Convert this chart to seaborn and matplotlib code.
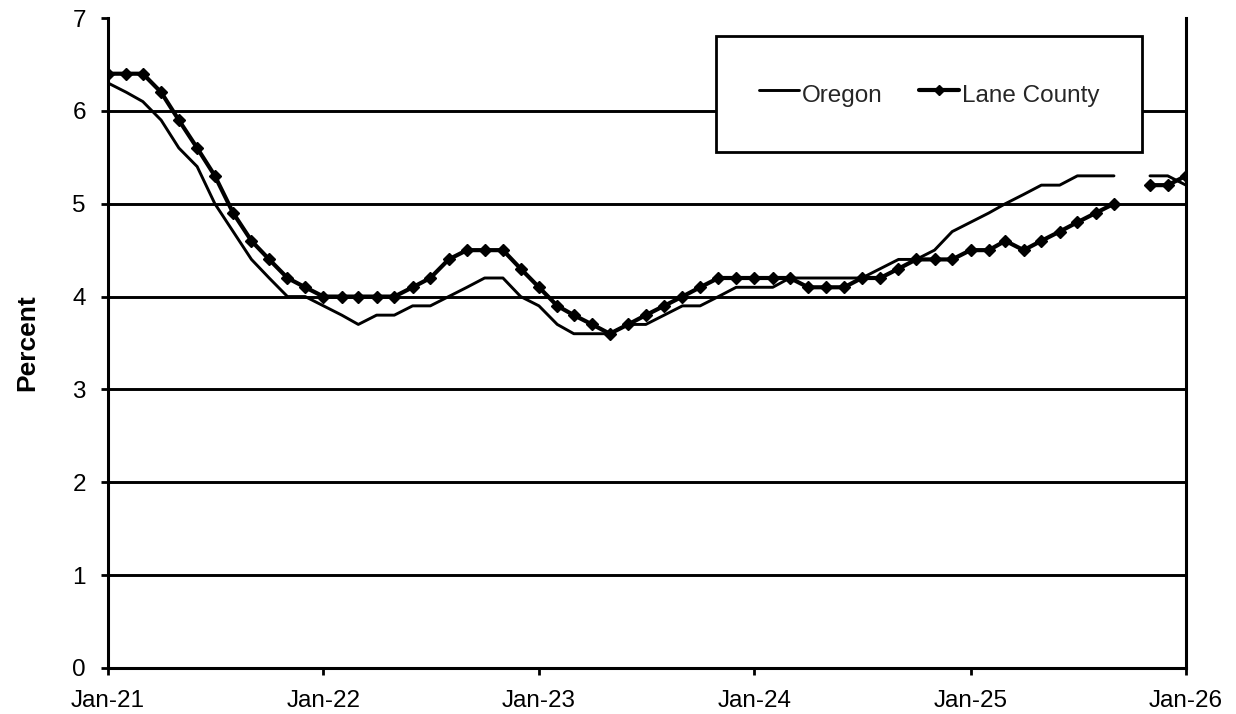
import numpy as np
import pandas as pd
import matplotlib
matplotlib.use("Agg")
import matplotlib.pyplot as plt
import matplotlib.dates as mdates
from matplotlib.lines import Line2D
import seaborn as sns

# ---- data (monthly, Jan-2021 .. Jan-2026; Oct-2025 missing) ----
months = pd.date_range("2021-01-01", "2026-01-01", freq="MS")

oregon = [6.3, 6.2, 6.1, 5.9, 5.6, 5.4, 5.0, 4.7, 4.4, 4.2, 4.0, 4.0,
          3.9, 3.8, 3.7, 3.8, 3.8, 3.9, 3.9, 4.0, 4.1, 4.2, 4.2, 4.0,
          3.9, 3.7, 3.6, 3.6, 3.6, 3.7, 3.7, 3.8, 3.9, 3.9, 4.0, 4.1,
          4.1, 4.1, 4.2, 4.2, 4.2, 4.2, 4.2, 4.3, 4.4, 4.4, 4.5, 4.7,
          4.8, 4.9, 5.0, 5.1, 5.2, 5.2, 5.3, 5.3, 5.3, np.nan, 5.3, 5.3,
          5.2]

lane = [6.4, 6.4, 6.4, 6.2, 5.9, 5.6, 5.3, 4.9, 4.6, 4.4, 4.2, 4.1,
        4.0, 4.0, 4.0, 4.0, 4.0, 4.1, 4.2, 4.4, 4.5, 4.5, 4.5, 4.3,
        4.1, 3.9, 3.8, 3.7, 3.6, 3.7, 3.8, 3.9, 4.0, 4.1, 4.2, 4.2,
        4.2, 4.2, 4.2, 4.1, 4.1, 4.1, 4.2, 4.2, 4.3, 4.4, 4.4, 4.4,
        4.5, 4.5, 4.6, 4.5, 4.6, 4.7, 4.8, 4.9, 5.0, np.nan, 5.2, 5.2,
        5.3]

series_names = ["Oregon", "Lane County"]
y_ticks = [0, 1, 2, 3, 4, 5, 6, 7]
tick_years = [2021, 2022, 2023, 2024, 2025, 2026]
y_label = "Percent"


def long_frame(values, name):
    d = pd.DataFrame({"date": months, "value": values})
    d["series"] = name
    d["segment"] = d["value"].isna().cumsum()
    return d.dropna()


df_or = long_frame(oregon, series_names[0])
df_lc = long_frame(lane, series_names[1])

# ---- style ----
sns.set_style("white")
plt.rcParams["font.family"] = ["Liberation Sans", "DejaVu Sans"]

fig = plt.figure(figsize=(12.36, 7.14), dpi=100)
ax = fig.add_axes([108 / 1236, 1 - 668 / 714, (1186 - 108) / 1236, (668 - 18) / 714])

sns.lineplot(data=df_or, x="date", y="value", units="segment", estimator=None,
             color="black", linewidth=2.1, ax=ax, zorder=3, legend=False)
sns.lineplot(data=df_lc, x="date", y="value", units="segment", estimator=None,
             color="black", linewidth=3.0, marker="D", markersize=6.3,
             markeredgecolor="black", markeredgewidth=1, ax=ax, zorder=4,
             legend=False)

ax.set_xlim(pd.Timestamp(f"{tick_years[0]}-01-01"), pd.Timestamp(f"{tick_years[-1]}-01-01"))
ax.set_ylim(y_ticks[0], y_ticks[-1])
ax.set_yticks(y_ticks)
ax.set_xticks([pd.Timestamp(f"{y}-01-01") for y in tick_years])
ax.xaxis.set_major_formatter(mdates.DateFormatter("%b-%y"))

ax.yaxis.grid(True, color="black", linewidth=2.1)
ax.xaxis.grid(False)
ax.get_ygridlines()[-1].set_visible(False)
ax.set_axisbelow(True)

for side in ["left", "bottom", "right"]:
    ax.spines[side].set_visible(True)
    ax.spines[side].set_color("black")
    ax.spines[side].set_linewidth(2.2)
ax.spines["top"].set_visible(False)

ax.tick_params(axis="both", which="major", direction="out", length=5, width=2,
               color="black", labelsize=17.5, pad=11, labelcolor="black")
ax.tick_params(axis="y", left=True)
ax.tick_params(axis="x", bottom=True)

ax.set_xlabel("")
ax.set_ylabel(y_label, fontsize=19, fontweight="bold", color="black")
ax.yaxis.set_label_coords(-0.064, 0.5)

handles = [
    Line2D([], [], color="black", linewidth=2.1),
    Line2D([], [], color="black", linewidth=3.0, marker="D", markersize=5),
]
leg = ax.legend(handles, series_names, loc="upper left",
                bbox_to_anchor=(716 / 1236, 1 - 36 / 714),
                bbox_transform=fig.transFigure, ncol=2, fontsize=17.5,
                frameon=True, fancybox=False, edgecolor="black", framealpha=1,
                borderpad=1.75, handlelength=1.65, handletextpad=0.12,
                handleheight=1.6, columnspacing=1.5, borderaxespad=0)
leg.get_frame().set_linewidth(2)
leg.set_zorder(10)

fig.savefig("out.png", dpi=100, facecolor="white")
